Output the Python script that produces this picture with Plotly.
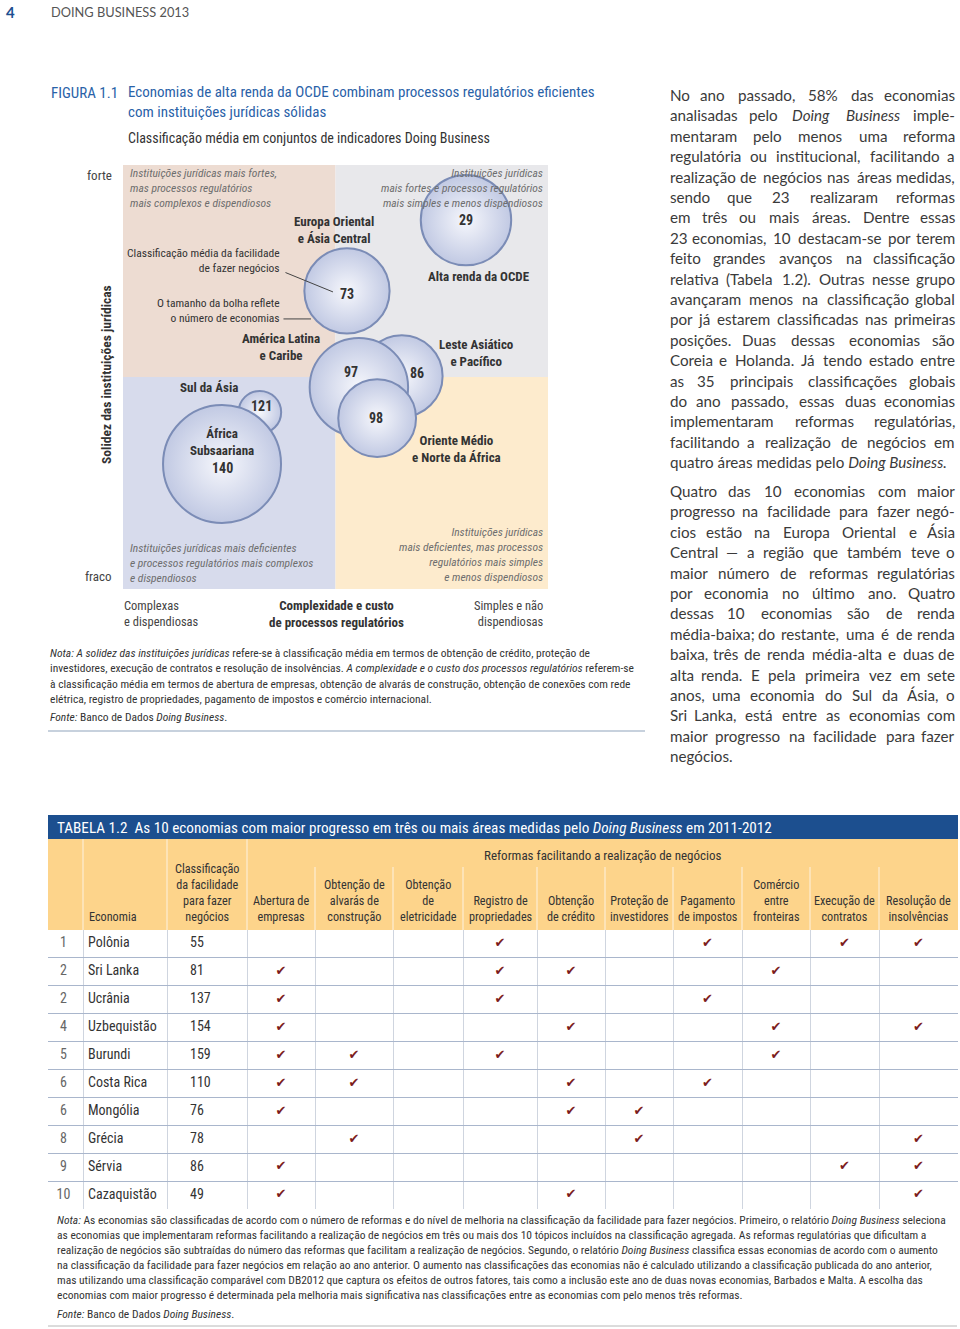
import unicodedata
import plotly.graph_objects as go

# ---------------- dados: figura 1.1 ----------------
regioes = ["Alta renda da OCDE", "Europa Oriental<br>e Ásia Central", "Leste Asiático<br>e Pacífico",
           "América Latina<br>e Caribe", "Oriente Médio<br>e Norte da África", "Sul da Ásia",
           "África<br>Subsaariana"]
complexidade = [80.7, 52.7, 65.6, 55.5, 59.8, 32.2, 23.3]   # 0 = complexas, 100 = simples
solidez = [87.0, 70.3, 50.2, 47.6, 40.3, 41.7, 29.5]        # 0 = fraco, 100 = forte
classif_media = [29, 73, 86, 97, 98, 121, 140]
n_economias = [27, 24, 22, 32, 20, 6, 46]

# ---------------- dados: tabela 1.2 ----------------
posicao = ["1", "2", "2", "4", "5", "6", "6", "8", "9", "10"]
economias = ["Polônia", "Sri Lanka", "Ucrânia", "Uzbequistão", "Burundi", "Costa Rica",
             "Mongólia", "Grécia", "Sérvia", "Cazaquistão"]
classificacao = [55, 81, 137, 154, 159, 110, 76, 78, 86, 49]
reformas = ["Abertura de<br>empresas", "Obtenção de<br>alvarás de<br>construção", "Obtenção<br>de<br>eletricidade",
            "Registro de<br>propriedades", "Obtenção<br>de crédito", "Proteção de<br>investidores",
            "Pagamento<br>de impostos", "Comércio<br>entre<br>fronteiras", "Execução de<br>contratos",
            "Resolução de<br>insolvências"]
# indices (1..10) das reformas realizadas por cada economia
reformas_feitas = [[4, 7, 9, 10], [1, 4, 5, 8], [1, 4, 7], [1, 5, 8, 10], [1, 2, 4, 8],
                   [1, 2, 5, 7], [1, 5, 6], [2, 6, 10], [1, 9, 10], [1, 5, 10]]

# ---------------- estilo ----------------
W, H = 960, 1329
NARROW = "Liberation Sans Narrow, Arial Narrow, Roboto Condensed, Roboto, sans-serif"
BODY = "Lato, Open Sans, sans-serif"
BLUE = "#2a62a8"
TXT = "#333333"
GREY_IT = "#6e6e6e"
ORANGE = "#fdd48b"
col_w = [35, 84, 80, 68, 78, 70, 74, 68, 68, 69, 68, 69, 79]   # larguras das colunas da tabela (px)

# deslocamentos (px) dos rótulos em relação ao centro de cada bolha
num_off = [(0, 0), (0, 3), (15, -3), (-8, -15), (-1, 0), (2, -6), (0, 4)]
name_off = [(13, 56), (-13, -61), (75, -23), (-78, -40), (79, 31), (-51, -25), (0, -22)]


def px(x):
    return x / W


def py(y):
    return 1 - y / H


ann = []


def txt(x, y, text, size, color=TXT, xanchor="left", yanchor="middle", family=NARROW, **kw):
    ann.append(dict(x=px(x), y=py(y), xref="paper", yref="paper", text=text, showarrow=False,
                    xanchor=xanchor, yanchor=yanchor, align=xanchor if xanchor != "center" else "center",
                    font=dict(size=size, color=color, family=family), **kw))


# larguras aproximadas (em) para justificar o texto corrido
LW = {' ': 0.193, 'a': 0.50, 'b': 0.56, 'c': 0.45, 'd': 0.56, 'e': 0.52, 'f': 0.32, 'g': 0.50,
      'h': 0.56, 'i': 0.24, 'j': 0.24, 'k': 0.49, 'l': 0.24, 'm': 0.84, 'n': 0.56, 'o': 0.55,
      'p': 0.56, 'q': 0.56, 'r': 0.37, 's': 0.42, 't': 0.35, 'u': 0.56, 'v': 0.49, 'w': 0.75,
      'x': 0.48, 'y': 0.49, 'z': 0.44, '.': 0.21, ',': 0.21, ';': 0.22, ':': 0.22, '-': 0.33,
      '(': 0.29, ')': 0.29, '%': 0.79, '—': 0.80, 'I': 0.27, 'J': 0.37, 'E': 0.55, 'L': 0.50,
      'S': 0.50, 'T': 0.57, 'C': 0.65, 'D': 0.72, 'O': 0.76, 'Q': 0.76, 'M': 0.87, 'H': 0.73,
      'N': 0.73, 'A': 0.67}


def word_w(word, size):
    w = 0
    for c in word.replace("<i>", "").replace("</i>", ""):
        b = unicodedata.normalize("NFD", c)[0]
        if b.isdigit():
            w += 0.58
        else:
            w += LW.get(b, 0.65 if b.isupper() else 0.52)
    return w * size


def justified(lines, y0, pitch, x0=668, x1=957, size=15.2):
    col = "#3a3a3a"
    for k, line in enumerate(lines):
        y = y0 + k * pitch
        words = line.split(" ")
        if k == len(lines) - 1 or len(words) == 1:
            txt(x0, y, line, size, color=col, family=BODY)
            continue
        ws = [word_w(w, size) for w in words]
        gap = (x1 - x0 - sum(ws)) / (len(words) - 1)
        x = x0
        for i, (w, ww) in enumerate(zip(words, ws)):
            if i == 0:
                txt(x0, y, w, size, color=col, family=BODY)
            elif i == len(words) - 1:
                txt(x1, y, w, size, color=col, family=BODY, xanchor="right")
            else:
                txt(x + ww / 2, y, w, size, color=col, family=BODY, xanchor="center")
            x += ww + gap


fig = go.Figure()

# quadrantes
quad = [((0, 50), (50, 100), "#eddcd2"), ((50, 100), (50, 100), "#e8e8eb"),
        ((0, 50), (0, 50), "#d7dbec"), ((50, 100), (0, 50), "#fdebcd")]
shapes = []
for (xa, xb), (ya, yb), col in quad:
    shapes.append(dict(type="rect", xref="x", yref="y", x0=xa, x1=xb, y0=ya, y1=yb,
                       fillcolor=col, line=dict(width=0), layer="below"))

# bolhas
fig.add_trace(go.Scatter(
    x=complexidade, y=solidez, mode="markers", cliponaxis=False, hoverinfo="skip",
    marker=dict(size=n_economias, sizemode="area", sizeref=46 / (2 * 59 ** 2),
                color="#c1c9e3", gradient=dict(type="radial", color="#f6f7fc"),
                line=dict(color="#7b8cb6", width=2), opacity=1)))

for i in range(len(regioes)):
    dx, dy = num_off[i]
    ann.append(dict(x=complexidade[i], y=solidez[i], xref="x", yref="y", text=str(classif_media[i]),
                    showarrow=False, xshift=dx, yshift=-dy,
                    font=dict(size=14, color=TXT, family=NARROW, weight="bold")))
    dx, dy = name_off[i]
    ann.append(dict(x=complexidade[i], y=solidez[i], xref="x", yref="y", text=regioes[i],
                    showarrow=False, xshift=dx, yshift=-dy, align="center",
                    font=dict(size=13, color=TXT, family=NARROW, weight="bold")))

# linhas de chamada da legenda, presas à bolha da Europa Oriental
ann.append(dict(x=complexidade[1], y=solidez[1], xref="x", yref="y", text="", showarrow=True,
                arrowhead=0, arrowwidth=1, arrowcolor="#444", xshift=-14, yshift=-1,
                ax=-49, ay=-20, standoff=0, startstandoff=0))
ann.append(dict(x=complexidade[1], y=solidez[1], xref="x", yref="y", text="", showarrow=True,
                arrowhead=0, arrowwidth=1, arrowcolor="#444", xshift=-36, yshift=-28,
                ax=-29, ay=0, standoff=0, startstandoff=0))

# cabeçalho da página
txt(4, 12, "<b>4</b>", 15, color="#1d4f91", family=BODY)
txt(49, 12, "DOING BUSINESS 2013", 12.8, color="#555", family=BODY)

# título da figura
txt(49, 93, "FIGURA 1.1", 15, color=BLUE)
txt(126, 102.5, "Economias de alta renda da OCDE combinam processos regulatórios eficientes<br>"
                "com instituições jurídicas sólidas", 15, color=BLUE)
txt(126, 138, "Classificação média em conjuntos de indicadores Doing Business", 14, color=TXT)

# textos dos quadrantes
txt(128, 188, "<i>Instituições jurídicas mais fortes,<br>mas processos regulatórios<br>"
              "mais complexos e dispendiosos</i>", 11.5, color=GREY_IT)
txt(545, 188, "<i>Instituições jurídicas<br>mais fortes e processos regulatórios<br>"
              "mais simples e menos dispendiosos</i>", 11.5, color=GREY_IT, xanchor="right")
txt(128, 563, "<i>Instituições jurídicas mais deficientes<br>e processos regulatórios mais complexos<br>"
              "e dispendiosos</i>", 11.5, color=GREY_IT)
txt(545, 554, "<i>Instituições jurídicas<br>mais deficientes, mas processos<br>"
              "regulatórios mais simples<br>e menos dispendiosos</i>", 11.5, color=GREY_IT, xanchor="right")

# legenda
txt(282, 261, "Classificação média da facilidade<br>de fazer negócios", 11.5, xanchor="right")
txt(282, 311, "O tamanho da bolha reflete<br>o número de economias", 11.5, xanchor="right")

# eixos
txt(114, 175, "forte", 13, color="#444", xanchor="right")
txt(114, 576, "fraco", 13, color="#444", xanchor="right")
txt(106, 375, "<b>Solidez das instituições jurídicas</b>", 13.5, xanchor="center", textangle=-90)
txt(122, 613.5, "Complexas<br>e dispendiosas", 12.5, color="#444")
txt(336, 613.5, "<b>Complexidade e custo<br>de processos regulatórios</b>", 13, xanchor="center")
txt(546, 613.5, "Simples e não<br>dispendiosas", 12.5, color="#444", xanchor="right")

# nota da figura
nota_fig = ["<i>Nota: A solidez das instituições jurídicas</i> refere-se à classificação média em termos de "
            "obtenção de crédito, proteção de",
            "investidores, execução de contratos e resolução de insolvências. <i>A complexidade e o custo dos "
            "processos regulatórios</i> referem-se",
            "à classificação média em termos de abertura de empresas, obtenção de alvarás de construção, "
            "obtenção de conexões com rede",
            "elétrica, registro de propriedades, pagamento de impostos e comércio internacional."]
for k, line in enumerate(nota_fig):
    txt(48, 653 + k * 15.3, line, 11.5)
txt(48, 717, "<i>Fonte:</i> Banco de Dados <i>Doing Business</i>.", 11.5)
shapes.append(dict(type="line", xref="paper", yref="paper", x0=px(48), x1=px(645), y0=py(731), y1=py(731),
                   line=dict(color="#8fa3bb", width=1)))

# texto corrido à direita
par1 = ["No ano passado, 58% das economias",
        "analisadas pelo <i>Doing</i> <i>Business</i> imple-",
        "mentaram pelo menos uma reforma",
        "regulatória ou institucional, facilitando a",
        "realização de negócios nas áreas medidas,",
        "sendo que 23 realizaram reformas",
        "em três ou mais áreas. Dentre essas",
        "23 economias, 10 destacam-se por terem",
        "feito grandes avanços na classificação",
        "relativa (Tabela 1.2). Outras nesse grupo",
        "avançaram menos na classificação global",
        "por já estarem classificadas nas primeiras",
        "posições. Duas dessas economias são",
        "Coreia e Holanda. Já tendo estado entre",
        "as 35 principais classificações globais",
        "do ano passado, essas duas economias",
        "implementaram reformas regulatórias,",
        "facilitando a realização de negócios em",
        "quatro áreas medidas pelo <i>Doing Business.</i>"]
par2 = ["Quatro das 10 economias com maior",
        "progresso na facilidade para fazer negó-",
        "cios estão na Europa Oriental e Ásia",
        "Central — a região que também teve o",
        "maior número de reformas regulatórias",
        "por economia no último ano. Quatro",
        "dessas 10 economias são de renda",
        "média-baixa; do restante, uma é de renda",
        "baixa, três de renda média-alta e duas de",
        "alta renda. E pela primeira vez em sete",
        "anos, uma economia do Sul da Ásia, o",
        "Sri Lanka, está entre as economias com",
        "maior progresso na facilidade para fazer",
        "negócios."]
justified(par1, 95, 20.4)
justified(par2, 491, 20.4)

# ---------------- tabela ----------------
bounds = [0]
for w in col_w:
    bounds.append(bounds[-1] + w)
centers = [(bounds[i] + bounds[i + 1]) / 2 for i in range(len(col_w))]
row_y = [i + 0.5 for i in range(len(economias))]

shapes.append(dict(type="rect", xref="paper", yref="paper", x0=px(48), x1=px(958), y0=py(839), y1=py(815),
                   fillcolor="#1c4f8f", line=dict(width=0)))
txt(55, 828, "TABELA 1.2  As 10 economias com maior progresso em três ou mais áreas medidas pelo "
             "<i>Doing Business</i> em 2011-2012", 15.2, color="white")
shapes.append(dict(type="rect", xref="paper", yref="paper", x0=px(48), x1=px(958), y0=py(930), y1=py(839),
                   fillcolor=ORANGE, line=dict(width=0)))
for k in range(1, len(col_w)):
    top = 839 if k <= 3 else 867
    shapes.append(dict(type="line", xref="x2", yref="paper", x0=bounds[k], x1=bounds[k],
                       y0=py(930), y1=py(top), line=dict(color="#fde8c4", width=1.5)))

# rótulos do cabeçalho
hdr_size = 12.2
ann.append(dict(x=bounds[1] + 4, y=py(926), xref="x2", yref="paper", text="Economia", showarrow=False,
                xanchor="left", yanchor="bottom", font=dict(size=hdr_size, color=TXT, family=NARROW)))
ann.append(dict(x=centers[2], y=py(926), xref="x2", yref="paper",
                text="Classificação<br>da facilidade<br>para fazer<br>negócios", showarrow=False,
                xanchor="center", yanchor="bottom", align="center",
                font=dict(size=hdr_size, color=TXT, family=NARROW)))
for j, r in enumerate(reformas):
    ann.append(dict(x=centers[j + 3], y=py(926), xref="x2", yref="paper", text=r, showarrow=False,
                    xanchor="center", yanchor="bottom", align="center",
                    font=dict(size=hdr_size, color=TXT, family=NARROW)))
ann.append(dict(x=(bounds[3] + bounds[-1]) / 2, y=py(855), xref="x2", yref="paper",
                text="Reformas facilitando a realização de negócios", showarrow=False,
                xanchor="center", yanchor="middle", font=dict(size=13, color=TXT, family=NARROW)))

# corpo da tabela
body_font = dict(family=NARROW, size=14, color=TXT)
fig.add_trace(go.Scatter(x=[centers[0] - 2] * len(posicao), y=row_y, text=posicao, mode="text",
                         textposition="middle center", textfont=dict(family=NARROW, size=14, color="#666"),
                         xaxis="x2", yaxis="y2", hoverinfo="skip"))
fig.add_trace(go.Scatter(x=[bounds[1] + 5] * len(economias), y=row_y, text=economias, mode="text",
                         textposition="middle right", textfont=body_font,
                         xaxis="x2", yaxis="y2", hoverinfo="skip"))
fig.add_trace(go.Scatter(x=[bounds[2] + 23] * len(classificacao), y=row_y,
                         text=[str(c) for c in classificacao], mode="text",
                         textposition="middle right", textfont=body_font,
                         xaxis="x2", yaxis="y2", hoverinfo="skip"))
chk_x, chk_y = [], []
for i, feitas in enumerate(reformas_feitas):
    for j in feitas:
        chk_x.append(centers[j + 2])
        chk_y.append(row_y[i])
fig.add_trace(go.Scatter(x=chk_x, y=chk_y, text=["✔"] * len(chk_x), mode="text",
                         textposition="middle center",
                         textfont=dict(family="DejaVu Sans", size=13, color="#7c1d1d"),
                         xaxis="x2", yaxis="y2", hoverinfo="skip"))

nota_tab = ["<i>Nota:</i> As economias são classificadas de acordo com o número de reformas e do nível de melhoria "
            "na classificação da facilidade para fazer negócios. Primeiro, o relatório <i>Doing Business</i> seleciona",
            "as economias que implementaram reformas facilitando a realização de negócios em três ou mais dos 10 "
            "tópicos incluídos na classificação agregada. As reformas regulatórias que dificultam a",
            "realização de negócios são subtraídas do número das reformas que facilitam a realização de negócios. "
            "Segundo, o relatório <i>Doing Business</i> classifica essas economias de acordo com o aumento",
            "na classificação da facilidade para fazer negócios em relação ao ano anterior. O aumento nas "
            "classificações das economias não é calculado utilizando a classificação publicada do ano anterior,",
            "mas utilizando uma classificação comparável com DB2012 que captura os efeitos de outros fatores, "
            "tais como a inclusão este ano de duas novas economias, Barbados e Malta. A escolha das",
            "economias com maior progresso é determinada pela melhoria mais significativa nas classificações "
            "entre as economias com pelo menos três reformas."]
for k, line in enumerate(nota_tab):
    txt(55, 1220 + k * 15, line, 11.5)
txt(55, 1314, "<i>Fonte:</i> Banco de Dados <i>Doing Business</i>.", 11.5)
shapes.append(dict(type="line", xref="paper", yref="paper", x0=px(48), x1=px(957), y0=py(1326), y1=py(1326),
                   line=dict(color="#b8b8b8", width=1)))

fig.update_layout(
    width=W, height=H, margin=dict(l=0, r=0, t=0, b=0),
    paper_bgcolor="white", plot_bgcolor="rgba(0,0,0,0)", showlegend=False,
    xaxis=dict(domain=[px(123), px(548)], range=[0, 100], visible=False, fixedrange=True),
    yaxis=dict(domain=[py(589), py(165)], range=[0, 100], visible=False, fixedrange=True),
    xaxis2=dict(domain=[px(48), px(958)], range=[0, bounds[-1]], anchor="y2", showticklabels=False,
                ticks="", zeroline=False, showline=False, showgrid=True, tickmode="array",
                tickvals=bounds[1:-1], gridcolor="#cfd5df", gridwidth=1, fixedrange=True),
    yaxis2=dict(domain=[py(1209), py(930)], range=[len(economias), 0], anchor="x2", showticklabels=False,
                ticks="", zeroline=False, showline=False, showgrid=True, tickmode="array",
                tickvals=list(range(len(economias) + 1)), gridcolor="#a9b6cc", gridwidth=1.3,
                fixedrange=True),
    shapes=shapes, annotations=ann)

fig.write_html("out.html", config={"displayModeBar": False},
               post_script="document.body.style.margin='0px';")
